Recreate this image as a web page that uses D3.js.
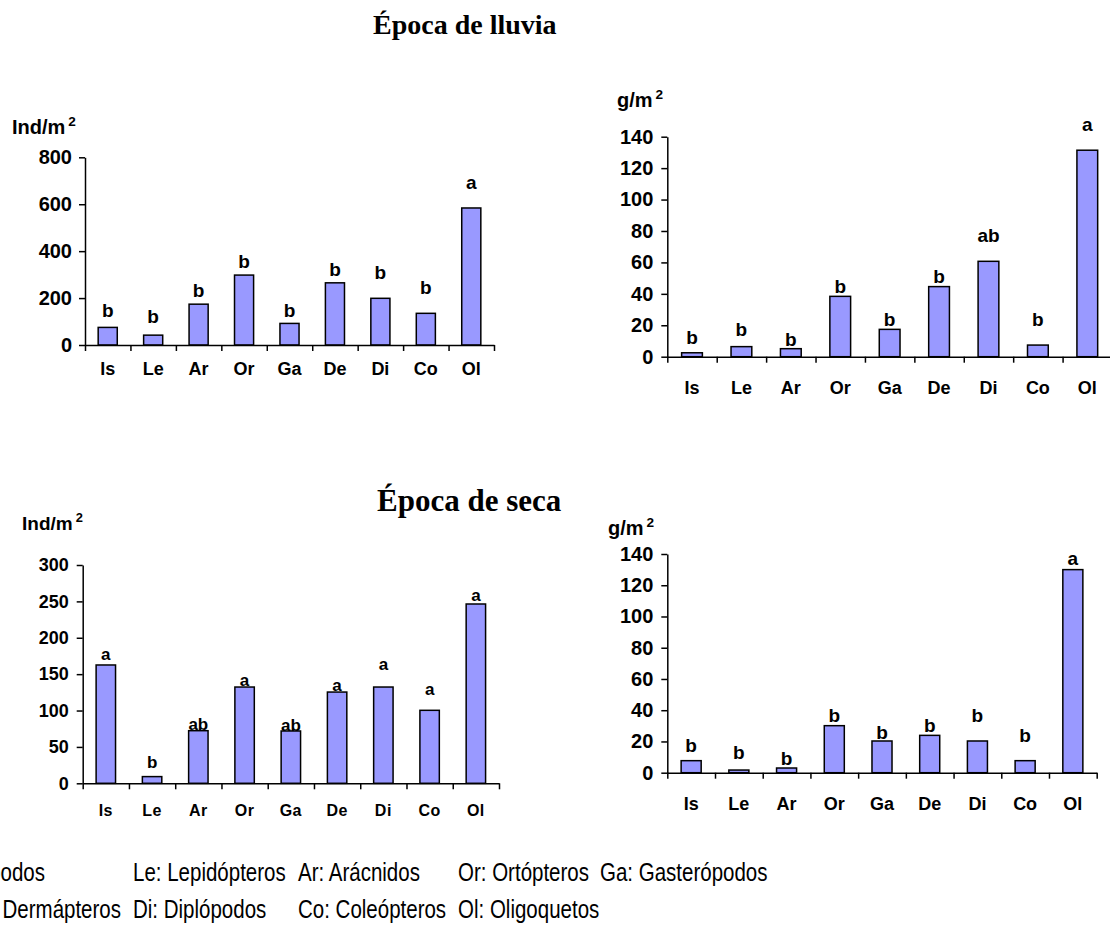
<!DOCTYPE html>
<html>
<head>
<meta charset="utf-8">
<script src="https://cdn.jsdelivr.net/npm/d3@7"></script>
<style>
  html, body { margin: 0; padding: 0; background: #fff; }
  svg { display: block; }
  .tick text { font-family: "Liberation Sans", Arial, sans-serif; font-weight: bold; fill: #000; }
  .domain, .tick line { stroke: #000; stroke-width: 1.5px; }
</style>
</head>
<body>
<svg id="chart" width="1110" height="934"></svg>
<script>
// Macrofauna groups
const categories = ["Is", "Le", "Ar", "Or", "Ga", "De", "Di", "Co", "Ol"];

// Rainy season: density (Ind/m²) and biomass (g/m²)
const rainDensity = [75, 42, 174, 298, 92, 265, 199, 135, 584];
const rainDensityGroups = ["b", "b", "b", "b", "b", "b", "b", "b", "a"];
const rainDensityGroupAt = [120, 92, 206, 329, 118, 295, 280, 216, 664];
const rainDensityTicks = [0, 200, 400, 600, 800];

const rainBiomass = [2.5, 6.4, 5.1, 38.4, 17.4, 44.6, 60.7, 7.4, 131.4];
const rainBiomassGroups = ["b", "b", "b", "b", "b", "b", "ab", "b", "a"];
const rainBiomassGroupAt = [8.1, 13.2, 6.8, 40.7, 19.5, 47.1, 73, 19.5, 143.9];
const rainBiomassTicks = [0, 20, 40, 60, 80, 100, 120, 140];

// Dry season: density (Ind/m²) and biomass (g/m²)
const dryDensity = [162.6, 9.2, 72.3, 132.3, 71.9, 125.4, 132.3, 100.3, 246.4];
const dryDensityGroups = ["a", "b", "ab", "a", "ab", "a", "a", "a", "a"];
const dryDensityGroupAt = [170, 20.6, 73, 134, 72, 127, 156, 122, 250];
const dryDensityTicks = [0, 50, 100, 150, 200, 250, 300];

const dryBiomass = [7.7, 1.7, 3.0, 30.1, 20.3, 23.9, 20.3, 7.7, 130];
const dryBiomassGroups = ["b", "b", "b", "b", "b", "b", "b", "b", "a"];
const dryBiomassGroupAt = [13, 8.8, 4.9, 32.7, 21.6, 26.2, 32.7, 19.8, 133];
const dryBiomassTicks = [0, 20, 40, 60, 80, 100, 120, 140];

// Season titles and group key
const seasonTitles = ["Época de lluvia", "Época de seca"];
const keyRow1 = ["Is: Isópodos", "Le: Lepidópteros", "Ar: Arácnidos", "Or: Ortópteros", "Ga: Gasterópodos"];
const keyRow2 = ["De: Dermápteros", "Di: Diplópodos", "Co: Coleópteros", "Ol: Oligoquetos"];

const FONT = "'Liberation Sans', Arial, sans-serif";
const SERIF = "'Liberation Serif', 'Times New Roman', serif";
const BAR_FILL = "#9999ff";

const svg = d3.select("#chart");

function drawPanel(cfg) {
  const g = svg.append("g");
  const yMax = cfg.ticks[cfg.ticks.length - 1];
  const y = d3.scaleLinear().domain([0, yMax]).range([cfg.y0, cfg.yTop]);
  const x = d3.scaleBand().domain(categories).range([cfg.x0, cfg.x1])
    .paddingInner(0.58).paddingOuter(0.29);
  const slots = d3.scaleLinear().domain([0, categories.length]).range([cfg.x0, cfg.x1]);

  // bars
  g.selectAll("rect.bar").data(cfg.values).join("rect")
    .attr("class", "bar")
    .attr("x", (d, i) => x(categories[i]))
    .attr("width", x.bandwidth())
    .attr("y", d => y(d))
    .attr("height", d => y(0) - y(d))
    .attr("fill", BAR_FILL)
    .attr("stroke", "#000")
    .attr("stroke-width", 1.5);

  // y axis
  const ya = g.append("g")
    .attr("transform", `translate(${cfg.x0},0)`)
    .call(d3.axisLeft(y).tickValues(cfg.ticks).tickSize(6).tickSizeOuter(0).tickPadding(cfg.tickPad));
  ya.selectAll(".tick text").style("font-size", cfg.tickFont + "px");

  // x axis: slot boundaries
  g.append("g")
    .attr("transform", `translate(0,${cfg.y0})`)
    .call(d3.axisBottom(slots).tickValues(d3.range(categories.length + 1))
      .tickSize(6).tickSizeOuter(0).tickFormat(""));

  // category labels
  g.selectAll("text.cat").data(categories).join("text")
    .attr("class", "cat")
    .attr("x", d => x(d) + x.bandwidth() / 2)
    .attr("y", cfg.catY)
    .attr("text-anchor", "middle")
    .style("font-family", FONT)
    .style("font-weight", "bold")
    .style("font-size", cfg.catFont + "px")
    .style("letter-spacing", (cfg.catSpacing || 0) + "px")
    .text(d => d);

  // significance letters
  g.selectAll("text.grp").data(cfg.groups).join("text")
    .attr("class", "grp")
    .attr("x", (d, i) => x(categories[i]) + x.bandwidth() / 2)
    .attr("y", (d, i) => y(cfg.groupAt[i]))
    .attr("text-anchor", "middle")
    .style("font-family", FONT)
    .style("font-weight", "bold")
    .style("font-size", cfg.letterFont + "px")
    .text(d => d);

  // unit label with superscript
  const u = g.append("text")
    .attr("x", cfg.unitX).attr("y", cfg.unitY)
    .style("font-family", FONT).style("font-weight", "bold")
    .style("font-size", cfg.unitFont + "px");
  u.append("tspan").text(cfg.unit);
  u.append("tspan").attr("dy", -cfg.unitFont * 0.42).attr("dx", 3)
    .style("font-size", (cfg.unitFont * 0.68) + "px").text("2");
}

drawPanel({
  values: rainDensity, groups: rainDensityGroups, groupAt: rainDensityGroupAt, ticks: rainDensityTicks,
  x0: 85, x1: 494, y0: 345, yTop: 157.3, catY: 375, tickFont: 20, tickPad: 7, catFont: 18, letterFont: 19,
  unit: "Ind/m", unitX: 12, unitY: 134, unitFont: 20
});
drawPanel({
  values: rainBiomass, groups: rainBiomassGroups, groupAt: rainBiomassGroupAt, ticks: rainBiomassTicks,
  x0: 667.3, x1: 1112, y0: 356.7, yTop: 136.7, catY: 394, tickFont: 20, tickPad: 8, catFont: 18, letterFont: 19,
  unit: "g/m", unitX: 617, unitY: 107, unitFont: 20
});
drawPanel({
  values: dryDensity, groups: dryDensityGroups, groupAt: dryDensityGroupAt, ticks: dryDensityTicks,
  x0: 82.7, x1: 499, y0: 783.3, yTop: 565, catY: 816, tickFont: 18, tickPad: 8, catFont: 16, catSpacing: 0.5, letterFont: 17,
  unit: "Ind/m", unitX: 22, unitY: 530, unitFont: 19
});
drawPanel({
  values: dryBiomass, groups: dryBiomassGroups, groupAt: dryBiomassGroupAt, ticks: dryBiomassTicks,
  x0: 667.3, x1: 1096.7, y0: 772.7, yTop: 554, catY: 810, tickFont: 20, tickPad: 8, catFont: 18, letterFont: 19,
  unit: "g/m", unitX: 608, unitY: 535, unitFont: 20
});

// season titles
svg.append("text").attr("x", 373).attr("y", 34)
  .style("font-family", SERIF).style("font-weight", "bold").style("font-size", "28px")
  .text(seasonTitles[0]);
svg.append("text").attr("x", 377).attr("y", 511)
  .style("font-family", SERIF).style("font-weight", "bold").style("font-size", "31px")
  .text(seasonTitles[1]);

// group key, two rows of condensed text; the first column runs off the left edge
const keyCols = [0, 133, 298, 458, 600];
const keyFirstEnd = [45, 121];
function keyText(txt, x, yBase, anchor) {
  svg.append("g").attr("transform", `translate(${x},${yBase}) scale(0.82,1)`)
    .append("text")
    .attr("text-anchor", anchor)
    .style("font-family", FONT).style("font-size", "25px")
    .text(txt);
}
keyRow1.forEach((t, i) => keyText(t, i === 0 ? keyFirstEnd[0] : keyCols[i], 881, i === 0 ? "end" : "start"));
keyRow2.forEach((t, i) => keyText(t, i === 0 ? keyFirstEnd[1] : keyCols[i], 918, i === 0 ? "end" : "start"));
</script>
</body>
</html>
